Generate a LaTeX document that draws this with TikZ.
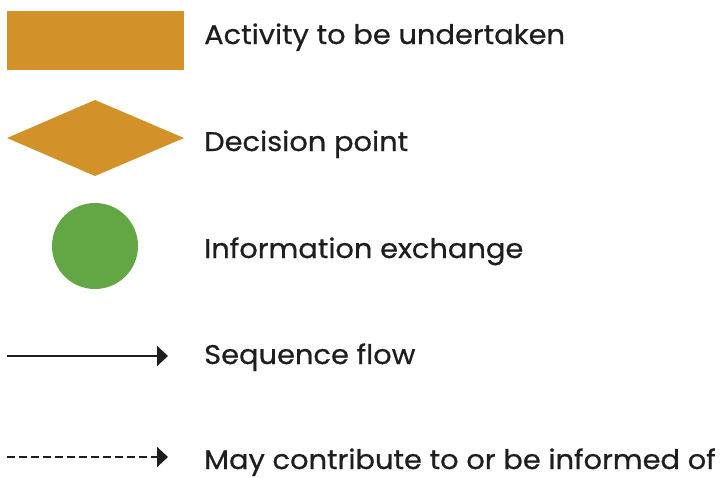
\documentclass[tikz,border=0pt]{standalone}
\usepackage{fontspec}
\setmainfont{Poppins}[FakeStretch=1.07,FakeBold=0.6]
\usetikzlibrary{arrows.meta}
\definecolor{act}{HTML}{D39229}
\definecolor{info}{HTML}{62A744}
\definecolor{ink}{HTML}{1E1E1E}
\begin{document}
\begin{tikzpicture}[x=1pt,y=-1pt,
  lbl/.style={anchor=base west,inner sep=0pt,font=\fontsize{27}{30}\selectfont,text=ink},
  flow/.style={line width=2pt,draw=ink,-{Triangle[length=11pt,width=20pt]}},
  flowdash/.style={flow,dash pattern=on 8pt off 4pt}]
\useasboundingbox (0,0) rectangle (723,477);
\fill[act] (7,11) rectangle (184,70);
\fill[act] (7,138) -- (95,100) -- (184,138) -- (95,176) -- cycle;
\fill[info] (95,246) circle (43);
\coordinate (s1) at (7,356);
\coordinate (s2) at (168,356);
\coordinate (d1) at (7,457);
\coordinate (d2) at (168,457);
\draw[flow] (s1) -- (s2);
\draw[flowdash] (d1) -- (d2);
\node[lbl] (t1) at (204,44) {Activity to be undertaken};
\node[lbl] (t2) at (204,151) {Decision point};
\node[lbl] (t3) at (204,258) {Information exchange};
\node[lbl] (t4) at (204,364) {Sequence flow};
\node[lbl] (t5) at (204,469) {May contribute to or be informed of};
\end{tikzpicture}
\end{document}
